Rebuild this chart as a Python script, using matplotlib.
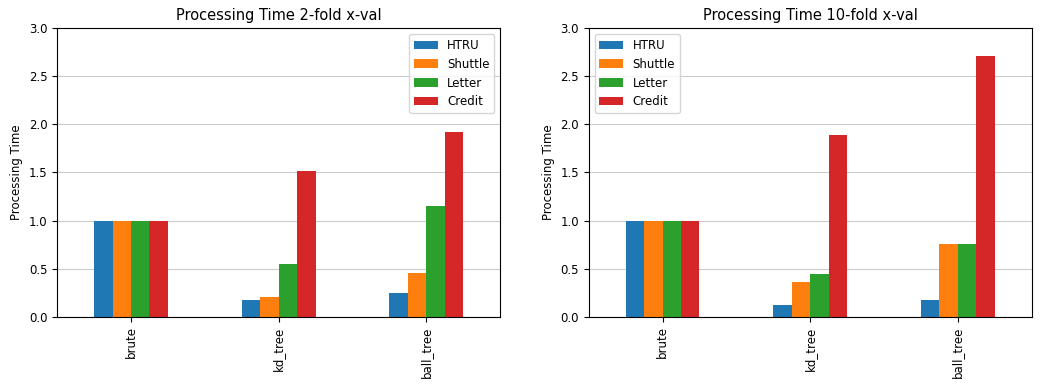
import numpy as np
from matplotlib import pyplot as plt

# algorithms on the x axis
algos = ['brute', 'kd_tree', 'ball_tree']
datasets = ['HTRU', 'Shuttle', 'Letter', 'Credit']

# relative processing time, 2-fold x-val (rows: datasets)
time_2fold = {
    'HTRU':    [1.0, 0.17, 0.25],
    'Shuttle': [1.0, 0.20, 0.45],
    'Letter':  [1.0, 0.55, 1.15],
    'Credit':  [1.0, 1.51, 1.92],
}

# relative processing time, 10-fold x-val
time_10fold = {
    'HTRU':    [1.0, 0.12, 0.17],
    'Shuttle': [1.0, 0.36, 0.76],
    'Letter':  [1.0, 0.44, 0.76],
    'Credit':  [1.0, 1.89, 2.71],
}

colors = ['#1f77b4', '#ff7f0e', '#2ca02c', '#d62728']

fig, axes = plt.subplots(1, 2, figsize=(10.4, 3.91), dpi=100)
fig.subplots_adjust(left=0.055, right=0.992, top=0.928, bottom=0.19, wspace=0.2)

def bar_panel(ax, data, title, legend_loc):
    x = np.arange(len(algos))
    w = 0.5 / len(datasets)
    for i, name in enumerate(datasets):
        ax.bar(x - 0.25 + w * (i + 0.5), data[name], width=w,
               color=colors[i], label=name, zorder=2)
    ax.set_xticks(x)
    ax.set_xticklabels(algos, rotation=90, fontsize=8.5)
    ax.set_xlim(-0.5, 2.5)
    ax.set_ylim(0, 3.0)
    ax.set_yticks(np.arange(0, 3.01, 0.5))
    ax.tick_params(axis='y', labelsize=8.5)
    ax.yaxis.grid(True, color='#cccccc', linewidth=0.8, zorder=0)
    ax.set_axisbelow(True)
    ax.set_ylabel('Processing Time', fontsize=8.5)
    ax.set_title(title, fontsize=10.5)
    ax.legend(loc=legend_loc, fontsize=8.5)

bar_panel(axes[0], time_2fold, 'Processing Time 2-fold x-val', 'upper right')
bar_panel(axes[1], time_10fold, 'Processing Time 10-fold x-val', 'upper left')

plt.savefig('out.png')
